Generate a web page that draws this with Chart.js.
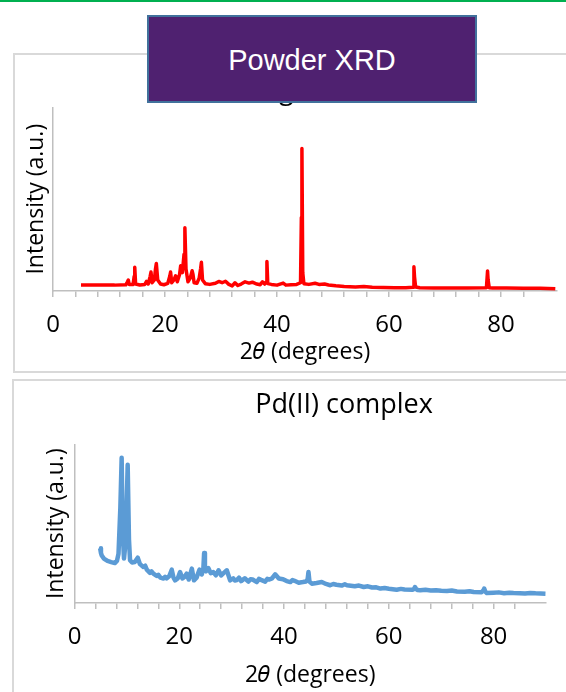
<!DOCTYPE html>
<html>
<head>
<meta charset="utf-8">
<title>Powder XRD</title>
<script src="https://cdn.jsdelivr.net/npm/chart.js@4"></script>
<style>
  html, body { margin: 0; padding: 0; background: #fff; overflow: hidden; }
  body { width: 566px; height: 692px; position: relative; }
  .topline { position: absolute; left: 0; top: 0; width: 566px; height: 2px; background: #00b050; }
  .frame { position: absolute; border: 2px solid #d9d9d9; box-sizing: border-box; background: #fff; }
  canvas { position: absolute; }
  .banner {
    position: absolute; left: 147px; top: 15px; width: 330px; height: 88px;
    box-sizing: border-box; border: 2px solid #41719c; background: #4f2170;
    color: #fff; font-family: 'Liberation Sans', Arial, sans-serif; font-size: 29px;
    display: flex; align-items: center; justify-content: center; padding-top: 3px;
    z-index: 5;
  }
</style>
</head>
<body>
<div class="topline"></div>
<div class="frame" style="left:13px; top:53px; width:700px; height:320px;"></div>
<div class="frame" style="left:12px; top:379px; width:700px; height:400px;"></div>
<canvas id="ligandChart" width="574" height="320" style="left:13px; top:53px;"></canvas>
<canvas id="complexChart" width="664" height="313" style="left:12px; top:379px;"></canvas>
<div class="banner">Powder XRD</div>
<script>
// 2-theta positions and intensities (a.u., 0-100 scale) for each pattern
const ligandAngle = [5.0, 8.0, 11.0, 13.0, 13.3, 13.45, 13.6, 14.3, 14.5, 14.6, 14.75, 15.5, 16.4, 16.7, 17.0,
  17.35, 17.5, 17.7, 18.1, 18.3, 18.45, 18.7, 19.2, 19.8, 20.5, 20.85, 21.0, 21.2, 21.6, 21.9, 22.2, 22.6,
  22.8, 23.1, 23.4, 23.55, 23.75, 24.1, 24.5, 24.85, 25.0, 25.2, 25.7, 26.1, 26.35, 26.5, 26.7, 27.2,
  28.0, 29.0, 29.6, 30.2, 30.8, 31.4, 32.0, 32.5, 33.0, 33.6, 34.3, 35.0, 35.6, 36.4, 37.0, 37.4, 37.8,
  38.1, 38.2, 38.35, 39.0, 40.0, 41.1, 41.6, 42.5, 43.5, 44.2, 44.35, 44.45, 44.6, 44.8, 45.7, 46.8,
  47.5, 48.5, 49.2, 50.5, 52.0, 54.0, 55.5, 57.0, 59.0, 61.0, 63.0, 64.3, 64.45, 64.55, 64.75, 65.5,
  68.0, 71.0, 74.0, 77.4, 77.6, 77.7, 77.9, 78.5, 81.0, 84.0, 87.0, 89.7];
const ligandIntensity = [3.3, 3.3, 3.2, 3.4, 5.0, 6.0, 3.6, 3.6, 8.0, 12.9, 3.8, 3.3, 3.6, 5.2, 3.8,
  8.0, 10.3, 4.5, 6.0, 12.0, 15.0, 6.0, 3.8, 3.4, 4.2, 8.0, 10.3, 4.5, 6.0, 8.3, 5.0, 9.0,
  13.8, 10.0, 20.0, 34.4, 12.0, 5.0, 7.0, 11.0, 9.0, 4.5, 4.2, 7.0, 12.0, 15.6, 6.0, 4.0,
  3.6, 4.2, 5.2, 4.5, 5.3, 3.6, 2.8, 4.5, 3.0, 3.8, 5.0, 4.3, 4.8, 3.8, 3.4, 5.0, 3.8,
  5.0, 16.0, 4.0, 3.6, 3.2, 4.3, 3.2, 3.4, 3.6, 4.5, 40.0, 77.6, 10.0, 4.0, 3.6, 4.2,
  3.6, 3.8, 3.3, 2.8, 2.4, 2.2, 2.5, 2.0, 1.9, 1.8, 1.8, 2.0, 13.2, 8.0, 2.2, 1.8,
  1.7, 1.7, 1.6, 1.8, 10.9, 6.0, 1.8, 1.6, 1.6, 1.5, 1.5, 1.2];

const complexAngle = [4.9, 5.05, 5.2, 5.6, 6.3, 7.0, 7.7, 8.1, 8.4, 8.75, 9.0, 9.2, 9.45, 9.8, 10.15,
  10.4, 10.6, 11.0, 11.5, 12.07, 12.5, 13.15, 13.5, 13.8, 14.4, 14.7, 15.06, 15.7, 16.0, 16.4, 17.0,
  17.3, 17.6, 18.1, 18.56, 18.9, 19.2, 19.7, 20.15, 20.6, 21.0, 21.4, 21.8, 22.4, 22.8, 23.3, 23.85,
  24.3, 24.6, 24.74, 24.9, 25.1, 25.56, 26.0, 26.5, 27.0, 27.5, 28.0, 28.5, 29.07, 29.7, 30.3, 30.6,
  31.0, 31.4, 31.8, 32.5, 33.2, 33.6, 34.0, 34.8, 35.2, 35.6, 36.4, 36.8, 37.2, 37.7, 38.3, 39.0,
  39.8, 40.5, 41.2, 41.6, 42.0, 42.8, 43.6, 44.2, 44.5, 44.66, 44.85, 45.3, 46.2, 47.2, 48.0,
  48.8, 49.4, 50.0, 51.0, 51.6, 52.0, 53.5, 54.3, 55.2, 56.0, 56.8, 57.6, 58.4, 59.2, 60.0, 61.5, 62.3,
  63.0, 64.5, 64.85, 65.0, 65.2, 65.5, 66.0, 67.0, 68.0, 69.0, 70.0, 71.1, 72.0, 73.0, 74.5, 75.4,
  76.2, 77.7, 78.05, 78.2, 78.4, 78.7, 80.0, 81.0, 82.0, 83.0, 83.8, 85.0, 86.0, 87.0, 88.0, 89.9];
const complexIntensity = [34.5, 31.5, 30.0, 28.0, 26.5, 25.8, 25.2, 26.5, 31.0, 60.0, 91.6, 45.0, 28.0, 40.0, 87.2,
  40.0, 27.0, 25.5, 25.8, 28.6, 24.5, 22.7, 23.5, 21.0, 19.0, 20.0, 18.5, 17.0, 17.8, 16.0, 15.4,
  16.5, 15.5, 17.0, 21.0, 16.0, 14.3, 15.5, 19.5, 15.5, 16.5, 18.5, 14.8, 21.7, 14.3, 16.0, 21.0,
  18.0, 22.0, 31.5, 21.0, 20.0, 22.0, 18.8, 19.5, 17.5, 20.6, 17.4, 19.0, 20.6, 14.3, 15.5, 14.2,
  14.5, 16.0, 13.8, 15.6, 13.5, 15.0, 14.8, 13.2, 15.2, 14.6, 13.5, 15.2, 14.8, 15.5, 18.1, 15.4,
  15.0, 13.8, 13.2, 14.5, 14.0, 12.8, 13.2, 13.6, 15.0, 19.5, 13.5, 12.2, 12.6, 13.2, 12.0,
  11.2, 12.0, 11.5, 11.0, 11.8, 11.2, 10.6, 11.0, 10.1, 10.5, 9.8, 9.9, 9.1, 9.5, 9.0, 8.4, 8.9,
  8.5, 8.3, 9.0, 10.1, 8.8, 8.2, 8.0, 8.3, 7.9, 8.1, 7.7, 7.6, 7.9, 7.3, 7.1, 7.4,
  6.9, 6.8, 8.0, 9.1, 7.2, 6.3, 6.5, 6.7, 6.2, 6.5, 6.3, 6.2, 6.0, 6.3, 6.1, 5.9];

Chart.defaults.font.family = "'Open Sans', sans-serif";
Chart.defaults.color = '#000';

const axisGray = '#bfbfbf';

function createChart(ctx, title, angles, values, color, lineWidth, box) {
  return new Chart(ctx, {
    type: 'line',
    data: {
      datasets: [{
        data: angles.map((a, i) => ({ x: a, y: values[i] })),
        borderColor: color,
        borderWidth: lineWidth,
        borderJoinStyle: 'round',
        pointRadius: 0,
        tension: 0,
        fill: false
      }]
    },
    options: {
      responsive: false,
      animation: false,
      devicePixelRatio: 1,
      layout: { padding: 0 },
      plugins: {
        legend: { display: false },
        tooltip: { enabled: false },
        title: {
          display: true,
          text: title,
          color: '#000',
          font: { size: 27, weight: 'normal', lineHeight: 1.2 },
          padding: { top: box.titleTop, bottom: box.titleBottom }
        }
      },
      scales: {
        x: {
          type: 'linear',
          min: 0,
          max: 90,
          ticks: {
            stepSize: 4,
            autoSkip: false,
            maxRotation: 0,
            padding: 14,
            font: { size: 24 },
            callback: v => (Math.abs(v % 20) < 1e-6 ? v : '')
          },
          grid: { drawOnChartArea: false, drawTicks: true, tickLength: 6, color: axisGray, lineWidth: 1.5 },
          border: { color: axisGray, width: 1.5 },
          title: {
            display: true,
            text: '2𝜃 (degrees)',
            font: { size: 23 },
            padding: { top: 0, bottom: box.xTitleBottom }
          },
          afterBuildTicks: s => { s.ticks = s.ticks.filter(t => t.value < 90); },
          afterFit: s => { s.height = box.xHeight; }
        },
        y: {
          min: 0,
          max: 100,
          ticks: { display: false },
          grid: { display: false, drawTicks: false },
          border: { display: true, color: axisGray, width: 1.5 },
          title: {
            display: true,
            text: 'Intensity (a.u.)',
            font: { size: 23 },
            padding: { top: box.yTitleLeft, bottom: 0 }
          },
          afterFit: s => { s.width = box.yWidth; }
        },
        // empty axis on the right that only reserves space
        pad: {
          type: 'linear',
          position: 'right',
          ticks: { display: false },
          grid: { display: false },
          border: { display: false },
          afterFit: s => { s.width = box.rightPad; }
        }
      }
    }
  });
}

const ligandChart = createChart(document.getElementById('ligandChart'), 'Ligand',
  ligandAngle, ligandIntensity, '#ff0000', 3.5,
  { titleTop: 22, titleBottom: 0, xHeight: 82, xTitleBottom: 7, yWidth: 40, yTitleLeft: 10, rightPad: 30 });

const complexChart = createChart(document.getElementById('complexChart'), 'Pd(II) complex',
  complexAngle, complexIntensity, '#5b9bd5', 4.5,
  { titleTop: 10, titleBottom: 23, xHeight: 89, xTitleBottom: 3, yWidth: 62.5, yTitleLeft: 31, rightPad: 130 });
</script>
</body>
</html>
